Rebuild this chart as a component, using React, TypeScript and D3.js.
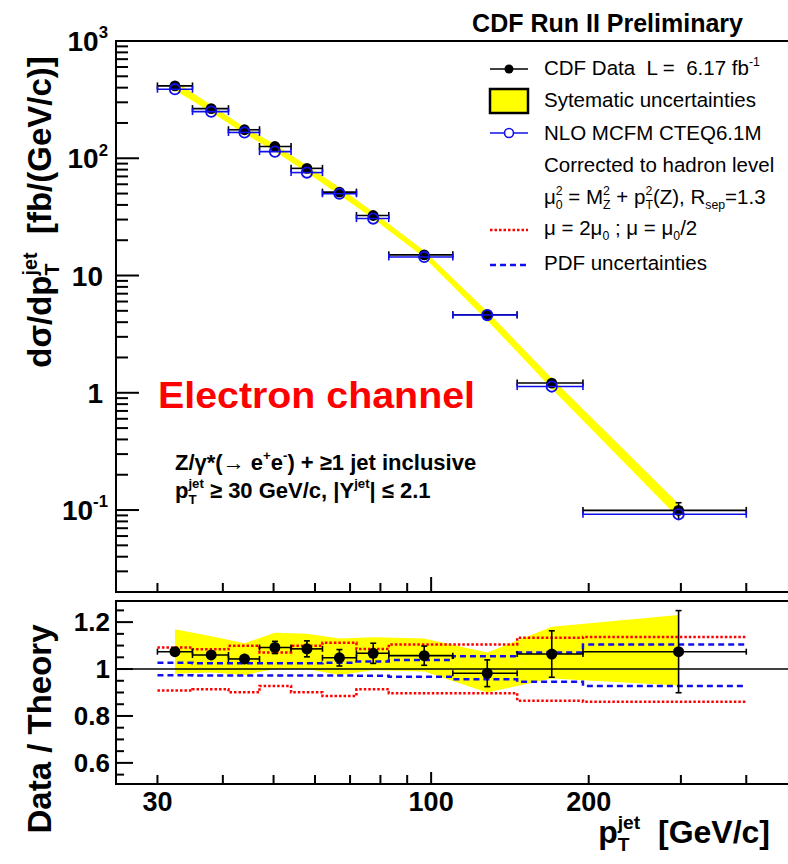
import React, { useEffect, useRef } from 'react'
import * as d3 from 'd3'

// bins in pT(jet) [GeV/c]
const binEdges = [30, 35, 41, 47, 54, 62, 72, 83, 110, 146, 195, 400]
const binCenters = [32.4, 38.0, 44.0, 50.3, 57.9, 66.8, 77.5, 97, 128, 170, 297]

// d sigma / d pT [fb/(GeV/c)]
const dataXsec = [414, 265, 175, 126, 82, 51.4, 32.5, 15.0, 4.63, 1.21, 0.0993]
const theoryXsec = [388, 250, 166, 114, 75.5, 49.8, 30.6, 14.4, 4.6, 1.13, 0.092]

// data / theory
const ratio = [1.074, 1.06, 1.043, 1.092, 1.086, 1.048, 1.067, 1.057, 0.982, 1.064, 1.074]
const ratioErr = [0.012, 0.014, 0.022, 0.026, 0.034, 0.035, 0.043, 0.041, 0.057, 0.099, 0.175]
const systHi = [1.17, 1.14, 1.11, 1.155, 1.15, 1.13, 1.135, 1.13, 1.07, 1.18, 1.23]
const systLo = [0.98, 0.985, 0.975, 1.0, 1.0, 0.975, 0.995, 0.99, 0.9, 0.96, 0.93]
const scaleHi = [1.092, 1.084, 1.099, 1.071, 1.099, 1.112, 1.085, 1.105, 1.105, 1.133, 1.137]
const scaleLo = [0.908, 0.914, 0.901, 0.928, 0.901, 0.885, 0.914, 0.897, 0.897, 0.865, 0.861]
const pdfHi = [1.027, 1.025, 1.025, 1.025, 1.025, 1.027, 1.032, 1.038, 1.055, 1.071, 1.105]
const pdfLo = [0.973, 0.972, 0.972, 0.972, 0.972, 0.972, 0.971, 0.967, 0.956, 0.946, 0.928]

const xTicks = [30, 40, 50, 60, 70, 80, 90, 100, 200, 300, 400]
const xTickLabels = [30, 100, 200]
const yDecades = [-1, 0, 1, 2, 3]
const ratioTickLabels = [0.6, 0.8, 1, 1.2]

const W = 788
const H = 864
const FONT = "'Liberation Sans', Arial, Helvetica, sans-serif"
const YELLOW = '#ffff00'
const BLUE = '#1010ee'
const RED = '#ff0000'

const x = d3.scaleLog().domain([25, 500]).range([116, 797])
const y = d3.scaleLog().domain([0.02, 1000]).range([592, 41])
const r = d3.scaleLinear().domain([0.51, 1.29]).range([784, 601])

type Part = { t: string; s?: number; shift?: number; dx?: number }

const addText = (g: any, px: number, py: number, parts: Part[], size: number, opts: any = {}) => {
  const t = g
    .append('text')
    .attr('x', px)
    .attr('y', py)
    .attr('font-size', size)
    .attr('font-family', FONT)
    .attr('font-weight', opts.weight || 'normal')
    .attr('fill', opts.fill || '#000')
    .attr('text-anchor', opts.anchor || 'start')
    .style('white-space', 'pre')
  if (opts.transform) t.attr('transform', opts.transform)
  if (opts.length) t.attr('textLength', opts.length).attr('lengthAdjust', 'spacingAndGlyphs')
  let prev = 0
  parts.forEach((p) => {
    const shift = p.shift || 0
    t.append('tspan')
      .attr('dy', shift - prev)
      .attr('dx', p.dx || 0)
      .attr('font-size', (p.s || 1) * size)
      .text(p.t)
    prev = shift
  })
  return t
}

const sup = (t: string, size: number, dx = 0): Part => ({ t, s: 0.6, shift: -0.45 * size, dx })
const sub = (t: string, size: number, dx = 0): Part => ({ t, s: 0.6, shift: 0.25 * size, dx })

const App = () => {
  const svgRef = useRef<SVGSVGElement>(null)

  useEffect(() => {
    const svg = d3.select(svgRef.current)
    svg.selectAll('*').remove()
    const idx = d3.range(binCenters.length)

    // ---------- top panel ----------
    const top = svg.append('g')

    const band = d3
      .area<number>()
      .x((i) => x(binCenters[i]))
      .y0((i) => y(theoryXsec[i] * systLo[i]))
      .y1((i) => y(theoryXsec[i] * systHi[i]))
    top.append('path').attr('d', band(idx)).attr('fill', YELLOW)

    // data: horizontal bin bars, vertical stat errors, markers
    const dataG = top.append('g').attr('stroke', '#000').attr('stroke-width', 1.6)
    idx.forEach((i) => {
      const yy = y(dataXsec[i])
      const x0 = x(binEdges[i])
      const x1 = x(binEdges[i + 1])
      dataG.append('line').attr('x1', x0).attr('x2', x1).attr('y1', yy).attr('y2', yy)
      dataG.append('line').attr('x1', x0).attr('x2', x0).attr('y1', yy - 3.5).attr('y2', yy + 3.5)
      dataG.append('line').attr('x1', x1).attr('x2', x1).attr('y1', yy - 3.5).attr('y2', yy + 3.5)
      const rel = ratioErr[i] / ratio[i]
      const yHi = y(dataXsec[i] * (1 + rel))
      const yLo = y(dataXsec[i] * (1 - rel))
      if (yy - yHi > 5.5) {
        const xc = x(binCenters[i])
        dataG.append('line').attr('x1', xc).attr('x2', xc).attr('y1', yHi).attr('y2', yLo)
        dataG.append('line').attr('x1', xc - 3).attr('x2', xc + 3).attr('y1', yHi).attr('y2', yHi)
      }
    })
    top
      .selectAll('circle.data')
      .data(idx)
      .join('circle')
      .attr('class', 'data')
      .attr('cx', (i) => x(binCenters[i]))
      .attr('cy', (i) => y(dataXsec[i]))
      .attr('r', 5.4)
      .attr('fill', '#000')

    // theory
    const thG = top.append('g').attr('stroke', BLUE).attr('stroke-width', 1.6)
    idx.forEach((i) => {
      const yy = y(theoryXsec[i])
      const x0 = x(binEdges[i])
      const x1 = x(binEdges[i + 1])
      thG.append('line').attr('x1', x0).attr('x2', x1).attr('y1', yy).attr('y2', yy)
      thG.append('line').attr('x1', x0).attr('x2', x0).attr('y1', yy - 3.5).attr('y2', yy + 3.5)
      thG.append('line').attr('x1', x1).attr('x2', x1).attr('y1', yy - 3.5).attr('y2', yy + 3.5)
    })
    top
      .selectAll('circle.theory')
      .data(idx)
      .join('circle')
      .attr('class', 'theory')
      .attr('cx', (i) => x(binCenters[i]))
      .attr('cy', (i) => y(theoryXsec[i]))
      .attr('r', 5.2)
      .attr('fill', 'none')
      .attr('stroke', BLUE)
      .attr('stroke-width', 1.8)

    // frame + axes
    top
      .append('rect')
      .attr('x', 116)
      .attr('y', 41)
      .attr('width', 797 - 116)
      .attr('height', 592 - 41)
      .attr('fill', 'none')
      .attr('stroke', '#000')
      .attr('stroke-width', 2)

    const ticks = top.append('g').attr('stroke', '#000').attr('stroke-width', 2)
    yDecades.forEach((e) => {
      d3.range(1, 10).forEach((k) => {
        const v = k * Math.pow(10, e)
        if (v > 1000) return
        const len = k === 1 ? 23 : 12
        ticks.append('line').attr('x1', 116).attr('x2', 116 + len).attr('y1', y(v)).attr('y2', y(v))
      })
    })
    d3.range(3, 10).forEach((k) => {
      const v = k * 0.01
      ticks.append('line').attr('x1', 116).attr('x2', 128).attr('y1', y(v)).attr('y2', y(v))
    })
    xTicks.forEach((v) => {
      const len = v === 100 ? 15 : 9
      ticks.append('line').attr('x1', x(v)).attr('x2', x(v)).attr('y1', 592).attr('y2', 592 - len)
    })

    yDecades.forEach((e) => {
      const parts: Part[] =
        e === 0 ? [{ t: '1' }] : e === 1 ? [{ t: '10' }] : [{ t: '10' }, sup(String(e), 28)]
      addText(top, e === 0 || e === 1 ? 103 : 108, y(Math.pow(10, e)) + 10, parts, 28, {
        anchor: 'end',
        weight: 'bold',
      })
    })

    addText(
      top,
      0,
      0,
      [
        { t: 'dσ/dp' },
        sub('T', 33),
        { ...sup('jet', 33), dx: -0.611 * 0.6 * 33, shift: -0.42 * 33 },
        { t: '  [fb/(GeV/c)]' },
      ],
      33,
      { anchor: 'middle', weight: 'bold', transform: 'translate(51,212) rotate(-90)' }
    )

    // title
    addText(top, 743, 32, [{ t: 'CDF Run II Preliminary' }], 25, { anchor: 'end', weight: 'bold' })

    // legend
    const leg = top.append('g')
    const lx0 = 490
    const lx1 = 528
    const lc = (lx0 + lx1) / 2
    const tx = 544
    const ls = 20.5
    leg.append('line').attr('x1', lx0).attr('x2', lx1).attr('y1', 69).attr('y2', 69).attr('stroke', '#000').attr('stroke-width', 1.6)
    leg.append('circle').attr('cx', lc).attr('cy', 69).attr('r', 4.5).attr('fill', '#000')
    addText(leg, tx, 75, [{ t: 'CDF Data  L =  6.17 fb' }, sup('-1', ls)], ls)

    leg.append('rect').attr('x', lx0).attr('y', 89).attr('width', lx1 - lx0).attr('height', 24).attr('fill', YELLOW).attr('stroke', '#000').attr('stroke-width', 2.5)
    addText(leg, tx, 107, [{ t: 'Sytematic uncertainties' }], ls)

    leg.append('line').attr('x1', lx0).attr('x2', lx1).attr('y1', 133).attr('y2', 133).attr('stroke', BLUE).attr('stroke-width', 1.6)
    leg.append('circle').attr('cx', lc).attr('cy', 133).attr('r', 4.5).attr('fill', '#fff').attr('stroke', BLUE).attr('stroke-width', 1.6)
    addText(leg, tx, 140, [{ t: 'NLO MCFM CTEQ6.1M' }], ls)

    addText(leg, tx, 172, [{ t: 'Corrected to hadron level' }], ls)

    const w2 = 0.556 * 0.6 * ls
    addText(
      leg,
      tx,
      204,
      [
        { t: 'μ' },
        sup('2', ls),
        sub('0', ls, -w2),
        { t: ' = M' },
        sup('2', ls),
        sub('Z', ls, -w2),
        { t: ' + p' },
        sup('2', ls),
        sub('T', ls, -w2),
        { t: '(Z), R' },
        sub('sep', ls),
        { t: '=1.3' },
      ],
      ls
    )

    leg.append('line').attr('x1', lx0).attr('x2', lx1).attr('y1', 230).attr('y2', 230).attr('stroke', RED).attr('stroke-width', 2.5).attr('stroke-dasharray', '2.5,2')
    addText(leg, tx, 235, [{ t: 'μ = 2μ' }, sub('0', ls), { t: ' ; μ = μ' }, sub('0', ls), { t: '/2' }], ls)

    leg.append('line').attr('x1', lx0).attr('x2', lx1).attr('y1', 265).attr('y2', 265).attr('stroke', BLUE).attr('stroke-width', 2.5).attr('stroke-dasharray', '6,4')
    addText(leg, tx, 270, [{ t: 'PDF uncertainties' }], ls)

    // annotations
    addText(top, 158, 408, [{ t: 'Electron channel' }], 36, { weight: 'bold', fill: RED, length: 317 })
    addText(
      top,
      175,
      470,
      [{ t: 'Z/γ*(→ e' }, sup('+', 22), { t: 'e' }, sup('-', 22), { t: ') + ≥1 jet inclusive' }],
      22,
      { weight: 'bold' }
    )
    addText(
      top,
      175,
      498,
      [
        { t: 'p' },
        sub('T', 22),
        { ...sup('jet', 22), dx: -0.611 * 0.6 * 22 },
        { t: ' ≥ 30 GeV/c, |Y' },
        sup('jet', 22),
        { t: '| ≤ 2.1' },
      ],
      22,
      { weight: 'bold' }
    )

    // ---------- ratio panel ----------
    const bot = svg.append('g')

    const rBand = d3
      .area<number>()
      .x((i) => x(binCenters[i]))
      .y0((i) => r(systLo[i]))
      .y1((i) => r(systHi[i]))
    bot.append('path').attr('d', rBand(idx)).attr('fill', YELLOW)

    const step = (vals: number[]) => {
      const pts: [number, number][] = vals.map((v, i) => [x(binEdges[i]), r(v)])
      pts.push([x(binEdges[vals.length]), r(vals[vals.length - 1])])
      return d3.line().curve(d3.curveStepAfter)(pts)
    }
    ;[scaleHi, scaleLo].forEach((vals) => {
      bot.append('path').attr('d', step(vals)).attr('fill', 'none').attr('stroke', RED).attr('stroke-width', 2.5).attr('stroke-dasharray', '2.5,2')
    })
    ;[pdfHi, pdfLo].forEach((vals) => {
      bot.append('path').attr('d', step(vals)).attr('fill', 'none').attr('stroke', BLUE).attr('stroke-width', 2.5).attr('stroke-dasharray', '6,4')
    })

    bot.append('line').attr('x1', 116).attr('x2', 797).attr('y1', r(1)).attr('y2', r(1)).attr('stroke', '#000').attr('stroke-width', 1.6)

    const rG = bot.append('g').attr('stroke', '#000').attr('stroke-width', 1.6)
    idx.forEach((i) => {
      const yy = r(ratio[i])
      const x0 = x(binEdges[i])
      const x1 = x(binEdges[i + 1])
      const xc = x(binCenters[i])
      rG.append('line').attr('x1', x0).attr('x2', x1).attr('y1', yy).attr('y2', yy)
      rG.append('line').attr('x1', x0).attr('x2', x0).attr('y1', yy - 3).attr('y2', yy + 3)
      rG.append('line').attr('x1', x1).attr('x2', x1).attr('y1', yy - 3).attr('y2', yy + 3)
      const yHi = r(ratio[i] + ratioErr[i])
      const yLo = r(ratio[i] - ratioErr[i])
      rG.append('line').attr('x1', xc).attr('x2', xc).attr('y1', yHi).attr('y2', yLo)
      if (yy - yHi > 5.5) {
        rG.append('line').attr('x1', xc - 3).attr('x2', xc + 3).attr('y1', yHi).attr('y2', yHi)
        rG.append('line').attr('x1', xc - 3).attr('x2', xc + 3).attr('y1', yLo).attr('y2', yLo)
      }
    })
    bot
      .selectAll('circle.ratio')
      .data(idx)
      .join('circle')
      .attr('class', 'ratio')
      .attr('cx', (i) => x(binCenters[i]))
      .attr('cy', (i) => r(ratio[i]))
      .attr('r', 5.5)
      .attr('fill', '#000')

    bot
      .append('rect')
      .attr('x', 116)
      .attr('y', 601)
      .attr('width', 797 - 116)
      .attr('height', 784 - 601)
      .attr('fill', 'none')
      .attr('stroke', '#000')
      .attr('stroke-width', 2)

    const rt = bot.append('g').attr('stroke', '#000').attr('stroke-width', 2)
    d3.range(11, 26).forEach((k) => {
      const v = k * 0.05
      const major = k % 4 === 0
      rt.append('line').attr('x1', 116).attr('x2', 116 + (major ? 17 : 8)).attr('y1', r(v)).attr('y2', r(v))
    })
    xTicks.forEach((v) => {
      const len = v === 100 ? 12 : 9
      rt.append('line').attr('x1', x(v)).attr('x2', x(v)).attr('y1', 784).attr('y2', 784 - len)
    })

    ratioTickLabels.forEach((v) => {
      addText(bot, 110, r(v) + 9, [{ t: String(v) }], 26, { anchor: 'end', weight: 'bold' })
    })
    xTickLabels.forEach((v) => {
      addText(bot, x(v), 811, [{ t: String(v) }], 27, { anchor: 'middle', weight: 'bold' })
    })

    addText(bot, 0, 0, [{ t: 'Data / Theory' }], 33, {
      anchor: 'middle',
      weight: 'bold',
      transform: 'translate(51,729) rotate(-90)',
    })
    addText(
      bot,
      770,
      843,
      [{ t: 'p' }, sub('T', 32), { ...sup('jet', 32), dx: -0.611 * 0.6 * 32 }, { t: '  [GeV/c]' }],
      32,
      { anchor: 'end', weight: 'bold' }
    )
  }, [])

  return (
    <svg
      ref={svgRef}
      width={W}
      height={H}
      style={{ position: 'absolute', left: 0, top: 0, background: '#fff' }}
    ></svg>
  )
}

export default App
